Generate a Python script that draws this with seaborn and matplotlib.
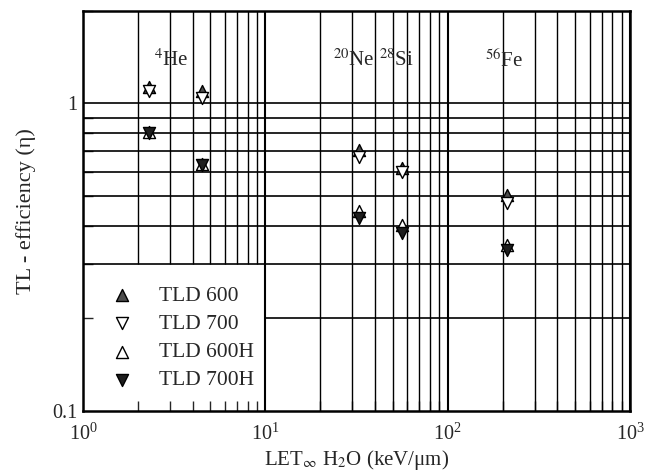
import numpy as np
import pandas as pd
import matplotlib
matplotlib.use("Agg")
import matplotlib.pyplot as plt
from matplotlib.ticker import FixedLocator, FuncFormatter, LogLocator, NullFormatter
import seaborn as sns

# LET in water (keV/um) for each ion beam
let_values = [2.3, 4.5, 32.5, 56.5, 212.0]
ions = ["4He", "4He", "20Ne", "28Si", "56Fe"]

# TL efficiency per detector type
tld600 = [1.13, 1.095, 0.705, 0.615, 0.503]
tld700 = [1.10, 1.04, 0.668, 0.597, 0.474]
tld600h = [0.805, 0.634, 0.446, 0.402, 0.346]
tld700h = [0.800, 0.630, 0.423, 0.378, 0.333]

series_names = ["TLD 600", "TLD 700", "TLD 600H", "TLD 700H"]

# ion labels along the top of the plot
label_texts = [r"$^{4}$He", r"$^{20}$Ne", r"$^{28}$Si", r"$^{56}$Fe"]
label_x = [2.45, 23.5, 42.0, 160.0]
label_y = 1.38

sns.set_style("ticks")
plt.rcParams["font.family"] = ["Liberation Serif", "DejaVu Serif"]
plt.rcParams["mathtext.fontset"] = "stix"

df = pd.DataFrame({
    "LET": let_values * 4,
    "eta": tld600 + tld700 + tld600h + tld700h,
    "series": sum([[n] * len(let_values) for n in series_names], []),
})

styles = {
    "TLD 600": dict(marker="^", color="#4d4d4d"),
    "TLD 700": dict(marker="v", color="white"),
    "TLD 600H": dict(marker="^", color="white"),
    "TLD 700H": dict(marker="v", color="#1e1e1e"),
}

fig = plt.figure(figsize=(6.59, 4.73), dpi=100)
ax = fig.add_axes([0.126, 0.131, 0.830, 0.846])
ax.set_xscale("log")
ax.set_yscale("log")
ax.set_xlim(1, 1000)
ax.set_ylim(0.1, 2.0)

# grid: the lower-left corner is left clear for the legend
xs = [k * 10.0 ** d for d in range(3) for k in range(1, 10)] + [1000.0]
for x in xs:
    lw = 1.5 if np.isclose(np.log10(x) % 1, 0) else 1.0
    y0 = 0.3 if x < 10 else 0.1
    ax.vlines(x, y0, 2.0, colors="black", linewidth=lw, zorder=1)
ys = [k / 10.0 for k in range(2, 11)]
for y in ys:
    x0 = 10.0 if y < 0.3 else 1.0
    ax.hlines(y, x0, 1000.0, colors="black", linewidth=1.2, zorder=1)

for name in series_names:
    sub = df[df["series"] == name]
    st = styles[name]
    sns.scatterplot(data=sub, x="LET", y="eta", ax=ax, marker=st["marker"],
                    color=st["color"], edgecolor="black", linewidth=1.0,
                    s=75, label=name, zorder=3)

for t, x in zip(label_texts, label_x):
    ax.text(x, label_y, t, fontsize=15, ha="left", va="center", zorder=4)

ax.yaxis.set_major_locator(FixedLocator([0.1, 1.0]))
ax.yaxis.set_major_formatter(FuncFormatter(lambda v, p: "0.1" if v < 0.5 else "1"))
ax.yaxis.set_minor_locator(LogLocator(base=10, subs=np.arange(2, 10)))
ax.yaxis.set_minor_formatter(NullFormatter())
ax.xaxis.set_major_locator(FixedLocator([1, 10, 100, 1000]))
ax.xaxis.set_minor_locator(LogLocator(base=10, subs=np.arange(2, 10)))
ax.xaxis.set_minor_formatter(NullFormatter())
ax.tick_params(axis="both", which="major", direction="in", length=0, labelsize=14.5)
ax.tick_params(axis="x", which="major", pad=9)
ax.tick_params(axis="y", which="major", pad=4)
ax.tick_params(axis="both", which="minor", direction="in", length=7, width=1.0)

for sp in ax.spines.values():
    sp.set_linewidth(1.8)
    sp.set_color("black")
    sp.set_zorder(5)

ax.set_xlabel(r"LET$_{\infty}$ H$_2$O (keV/μm)", fontsize=15, labelpad=2)
ax.set_ylabel("TL - efficiency (η)", fontsize=16, labelpad=12)

leg = ax.legend(loc="upper left", bbox_to_anchor=(0.036, 0.335), frameon=False,
                fontsize=15.5, handletextpad=1.2, labelspacing=0.38,
                borderaxespad=0, handlelength=1.0)

fig.savefig("out.png", dpi=100)
